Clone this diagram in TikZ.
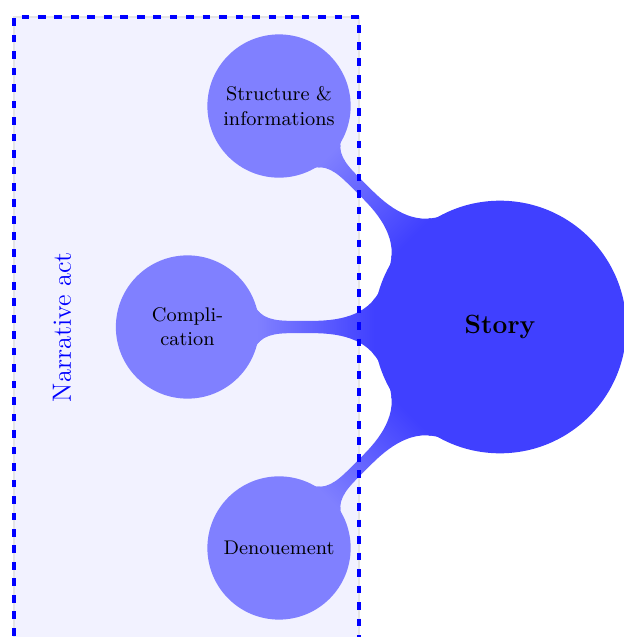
\documentclass[tikz,border=0pt]{standalone}
\usetikzlibrary{mindmap}

\begin{document}
\begin{tikzpicture}[mindmap, concept color=blue!75,
    level 1 concept/.append style={level distance=5cm},
    part/.style={concept color=blue!50},
    actframe/.style={blue, ultra thick, dash pattern=on 3.5pt off 4pt},
    actlabel/.style={blue, rotate=90}]
    \useasboundingbox (-8,-4.96) rectangle (1.984,5.232);
    \filldraw[fill=blue!5, draw=black!10] (-7.776,-5.2) rectangle (-2.256,4.96);
    \node[concept, font=\large\bfseries] (story) {Story}
        child[part, grow=135] {node[concept] (structure) {Structure \& informations}}
        child[part, grow=180] {node[concept] (complication) {Compli-\\cation}}
        child[part, grow=225] {node[concept] (denouement) {Denouement}};
    \draw[actframe] (-7.776,-5.2) -- (-7.776,4.96) -- (-2.256,4.96) -- (-2.256,-5.2);
    \node[actlabel] (act) at (-7.008,0) {Narrative act};
\end{tikzpicture}
\end{document}
